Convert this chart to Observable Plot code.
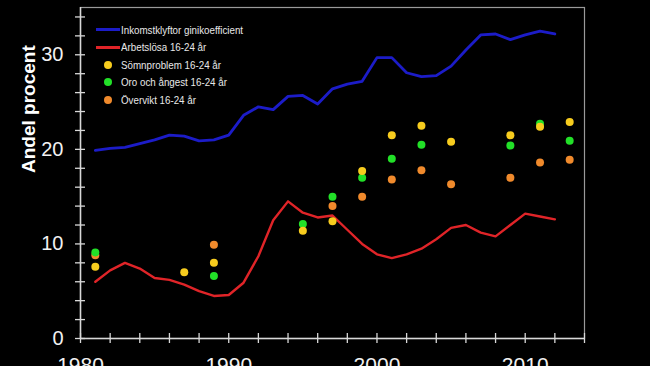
<!DOCTYPE html>
<html>
<head>
<meta charset="utf-8">
<script src="https://cdn.jsdelivr.net/npm/d3@7"></script>
<script src="https://cdn.jsdelivr.net/npm/@observablehq/plot@0.6"></script>
<style>
  html, body { margin: 0; padding: 0; background: #000; }
  #wrap { position: relative; width: 650px; height: 366px; overflow: hidden; background:#000; }
  #legend { position: absolute; left: 96px; top: 21px; font-family: "Liberation Sans Narrow", "Liberation Sans", Arial, sans-serif; font-size: 11.5px; color: #e8e8e8; }
  .row { height: 17.5px; display: flex; align-items: center; white-space: nowrap; }
  .sw { width: 24px; height: 14px; display: flex; align-items: center; justify-content: center; flex: none; }
  .ln { width: 24px; height: 3px; }
  .dt { width: 8px; height: 8px; border-radius: 50%; }
  .lt { display: inline-block; transform: scaleX(0.85); transform-origin: left center; }
</style>
</head>
<body>
<div id="wrap"><div id="chart"></div><div id="legend"></div></div>
<script>
const years = d3.range(1981, 2013);
const gini = [19.9,20.1,20.2,20.6,21.0,21.5,21.4,20.9,21.0,21.5,23.6,24.5,24.2,25.6,25.7,24.8,26.4,26.9,27.2,29.7,29.7,28.1,27.7,27.8,28.8,30.5,32.1,32.2,31.6,32.1,32.5,32.2];
const arbetslosa = [6.0,7.2,8.0,7.4,6.4,6.2,5.7,5.0,4.5,4.6,5.9,8.7,12.5,14.5,13.3,12.8,13.0,11.5,10.0,8.9,8.5,8.9,9.5,10.5,11.7,12.0,11.2,10.8,12.0,13.2,12.9,12.6];

const sovYears = [1981,1987,1989,1995,1997,1999,2001,2003,2005,2009,2011,2013];
const somnproblem = [7.6,7.0,8.0,11.4,12.4,17.7,21.5,22.5,20.8,21.5,22.4,22.9];
const oroYears = [1981,1989,1995,1997,1999,2001,2003,2009,2011,2013];
const oro = [9.1,6.6,12.1,15.0,17.0,19.0,20.5,20.4,22.7,20.9];
const overYears = [1981,1989,1997,1999,2001,2003,2005,2009,2011,2013];
const overvikt = [8.8,9.9,14.0,15.0,16.8,17.8,16.3,17.0,18.6,18.9];

const seriesNames = ["Inkomstklyftor ginikoefficient","Arbetslösa 16-24 år","Sömnproblem 16-24 år","Oro och ångest 16-24 år","Övervikt 16-24 år"];
const colors = ["#1c1cc8","#e02428","#f7cc1e","#22e028","#f08a2c"];

const yLabelTicks = [0,10,20,30];
const xLabelTicks = [1980,1990,2000,2010];

const lineData = (ys, vals) => ys.map((x, i) => ({x, y: vals[i]}));

const font = '"Liberation Sans Narrow", "Liberation Sans", Arial, sans-serif';

const chart = Plot.plot({
  width: 650,
  height: 366,
  marginLeft: 80,
  marginRight: 66,
  marginTop: 7,
  marginBottom: 28,
  style: {background: "#000", color: "#fff", fontFamily: font, overflow: "visible"},
  x: {domain: [1980, 2014], label: null},
  y: {domain: [0, 35], label: null},
  marks: [
    Plot.frame({stroke: "#9a9a9a", strokeWidth: 1.2}),
    Plot.ruleY([0], {stroke: "#d8d8d8", strokeWidth: 1.5}),
    Plot.ruleX([1980], {stroke: "#d8d8d8", strokeWidth: 1.5}),
    Plot.axisY({ticks: d3.range(0, 36, 2), tickSize: 10, dx: 5, text: null, label: null, stroke: "#d8d8d8", strokeWidth: 1.3}),
    Plot.axisY(yLabelTicks, {tickSize: 0, tickPadding: 17, fontSize: 20, fill: "#f2f2f2", label: null}),
    Plot.axisX({ticks: d3.range(1980, 2015, 2), tickSize: 10, dy: -5, text: null, label: null, stroke: "#d8d8d8", strokeWidth: 1.3}),
    Plot.axisX(xLabelTicks, {tickSize: 0, tickPadding: 19, fontSize: 21, fill: "#f2f2f2", tickFormat: d => String(d), label: null}),
    Plot.text(["Andel procent"], {frameAnchor: "left", dx: -52, rotate: -90, fontSize: 19, fontWeight: "bold", fill: "#fff", fontFamily: "Liberation Sans, Arial, sans-serif"}),
    Plot.line(lineData(years, gini), {x: "x", y: "y", stroke: colors[0], strokeWidth: 2.8}),
    Plot.line(lineData(years, arbetslosa), {x: "x", y: "y", stroke: colors[1], strokeWidth: 2.4}),
    Plot.dot(lineData(overYears, overvikt), {x: "x", y: "y", r: 4, fill: colors[4]}),
    Plot.dot(lineData(oroYears, oro), {x: "x", y: "y", r: 4, fill: colors[3]}),
    Plot.dot(lineData(sovYears, somnproblem), {x: "x", y: "y", r: 4, fill: colors[2]})
  ]
});
document.getElementById("chart").appendChild(chart);

const legend = document.getElementById("legend");
seriesNames.forEach((name, i) => {
  const row = document.createElement("div");
  row.className = "row";
  const sw = document.createElement("div");
  sw.className = "sw";
  const m = document.createElement("div");
  m.className = i < 2 ? "ln" : "dt";
  m.style.background = colors[i];
  sw.appendChild(m);
  const t = document.createElement("span");
  t.className = "lt";
  t.textContent = name;
  t.style.marginLeft = "1px";
  row.appendChild(sw);
  row.appendChild(t);
  legend.appendChild(row);
});
</script>
</body>
</html>
